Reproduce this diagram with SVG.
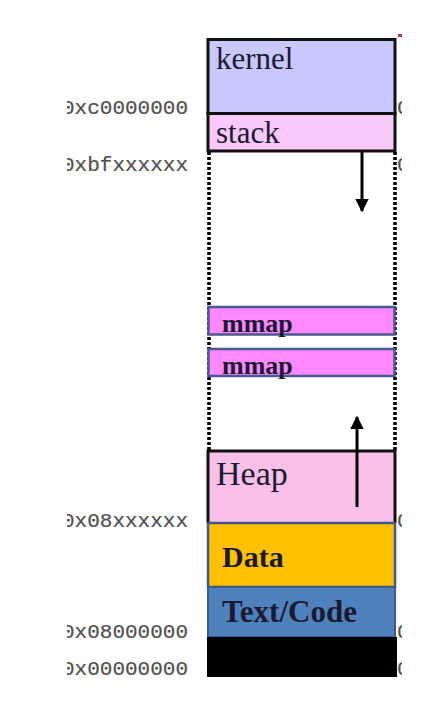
<svg xmlns="http://www.w3.org/2000/svg" width="424" height="706" viewBox="0 0 424 706">
<defs>
<style>
.seg{stroke:#111;stroke-width:3}
.lbl{font-family:"Liberation Serif","Times New Roman",serif;fill:#1c1a33}
.b{font-weight:bold}
.addr{font-family:"Liberation Mono","Courier New",monospace;font-size:21px;fill:#505050;stroke:#505050;stroke-width:0.2;text-anchor:end}
.frag{font-family:"Liberation Mono","Courier New",monospace;font-size:21px;fill:#505050;stroke:#505050;stroke-width:0.2}
.dots{stroke:#000;stroke-width:3.6;stroke-dasharray:3 2;fill:none}
.mm{fill:#ff88ff;stroke:#4a5a8c;stroke-width:2.5}
.arrow{stroke:#000;stroke-width:3;fill:none}
</style>
<clipPath id="leftclip"><rect x="67" y="0" width="357" height="706"/></clipPath>
<clipPath id="rightclip"><rect x="0" y="0" width="402" height="706"/></clipPath>
<marker id="ah" viewBox="0 0 10 10" refX="9" refY="5" markerWidth="4.5" markerHeight="4.5" orient="auto" markerUnits="strokeWidth">
<path d="M0,0 L10,5 L0,10 Z" fill="#000"/>
</marker>
</defs>
<rect width="424" height="706" fill="#fff"/>

<g id="kernel">
<rect class="seg" x="208" y="39.5" width="187" height="74" fill="#c8c8ff"/>
<text class="lbl" x="216" y="69" font-size="31">kernel</text>
</g>
<g id="stack">
<rect class="seg" x="208" y="113.5" width="187" height="37.5" fill="#f8c8f8"/>
<text class="lbl" x="216" y="143" font-size="31">stack</text>
</g>
<g id="free-space">
<line class="dots" x1="209" y1="152" x2="209" y2="450"/>
<line class="dots" x1="395" y1="152" x2="395" y2="450"/>
</g>
<g id="mmap1">
<rect class="mm" x="208.5" y="307" width="186" height="27.5"/>
<text class="lbl b" x="222" y="332" font-size="26">mmap</text>
</g>
<g id="mmap2">
<rect class="mm" x="208.5" y="349" width="186" height="27"/>
<text class="lbl b" x="222" y="374" font-size="26">mmap</text>
</g>
<g id="heap">
<rect x="208" y="451" width="187" height="72" fill="#f8c0e8"/>
<path class="seg" d="M208,523 V451 H395 V523" fill="none"/>
<text class="lbl" x="216" y="485" font-size="34">Heap</text>
</g>
<g id="data">
<rect x="208" y="523" width="187" height="64" fill="#ffc000" stroke="#3d5a8a" stroke-width="2.5"/>
<text class="lbl b" x="222" y="567" font-size="30" fill="#111">Data</text>
</g>
<g id="text-code">
<rect x="208" y="587" width="187" height="50" fill="#4f81bd" stroke="#3d5a8a" stroke-width="2"/>
<text class="lbl b" x="222" y="622" font-size="31" fill="#0c1020">Text/Code</text>
</g>
<g id="reserved">
<rect x="207" y="637" width="190" height="40" fill="#000"/>
</g>

<g id="connectors">
<line class="arrow" x1="362" y1="152" x2="362" y2="211" marker-end="url(#ah)"/>
<line class="arrow" x1="357" y1="507" x2="357" y2="417" marker-end="url(#ah)"/>
</g>

<g id="addresses" clip-path="url(#leftclip)">
<text class="addr" x="188" y="114">0xc0000000</text>
<text class="addr" x="188" y="171">0xbfxxxxxx</text>
<text class="addr" x="188" y="527">0x08xxxxxx</text>
<text class="addr" x="188" y="638">0x08000000</text>
<text class="addr" x="188" y="675">0x00000000</text>
</g>
<g id="right-fragments" clip-path="url(#rightclip)">
<text class="frag" x="397" y="114">0</text>
<text class="frag" x="397" y="171">0</text>
<text class="frag" x="397" y="527">0</text>
<text class="frag" x="397" y="638">0</text>
<text class="frag" x="397" y="675">0</text>
</g>
<rect x="398" y="34" width="4" height="3" fill="#c03050"/>
</svg>
